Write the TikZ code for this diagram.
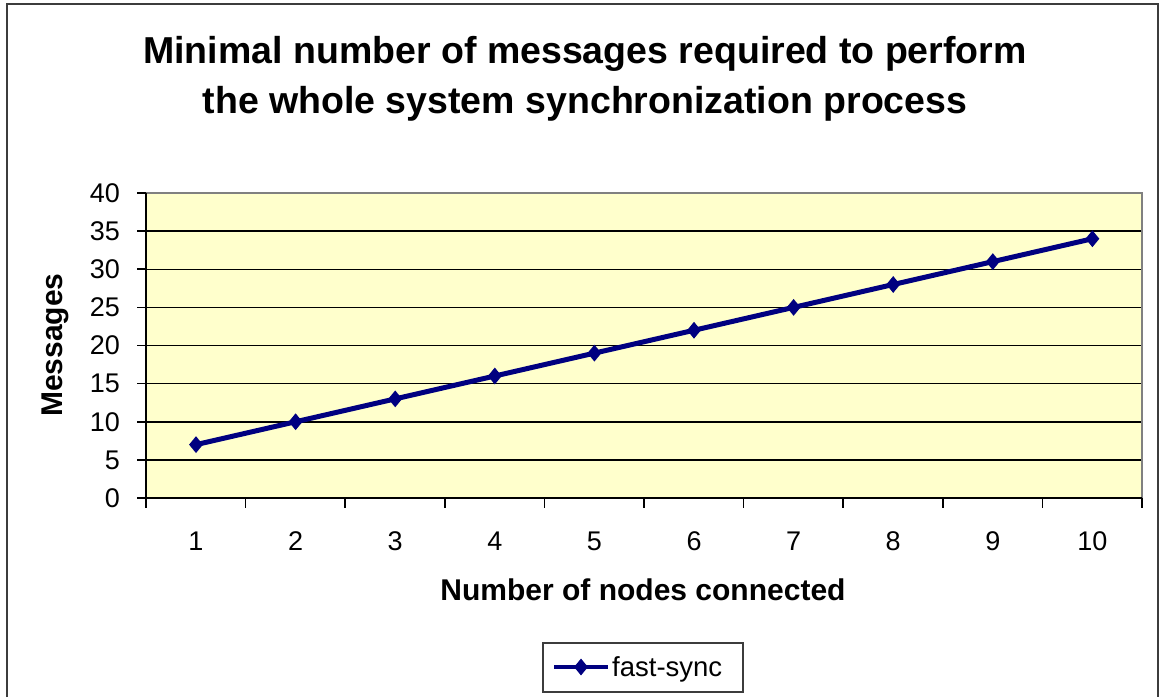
\documentclass[tikz,border=0pt]{standalone}
\usepackage{fontspec}
\setmainfont{Liberation Sans}
\usetikzlibrary{shapes.geometric}
\definecolor{plotbg}{RGB}{255,255,204}
\definecolor{seriesblue}{RGB}{0,0,128}
\definecolor{frameedge}{RGB}{60,60,60}
\definecolor{plotedge}{RGB}{128,128,128}
\begin{document}
\begin{tikzpicture}[x=1pt,y=-1pt,
  gridline/.style={line width=1.5pt,black},
  axisline/.style={line width=1.6pt,black},
  ticklabel/.style={font=\fontsize{27}{30}\selectfont,inner sep=0pt},
  axistitle/.style={font=\bfseries\fontsize{30}{34}\selectfont,inner sep=0pt},
  titletext/.style={font=\bfseries\fontsize{37.5}{50}\selectfont,inner sep=0pt,anchor=base},
  seriesline/.style={line width=5pt,seriesblue,line join=round},
  marker/.style={diamond,fill=seriesblue,draw=none,inner sep=0pt,minimum width=14pt,minimum height=17pt},
  legendbox/.style={draw=frameedge,line width=1.5pt,fill=white}
]
\useasboundingbox (0,0) rectangle (1159,697);
\fill[white] (0,0) rectangle (1159,697);

% chart frame (its lower edge lies below the page)
\draw[frameedge,line width=1.6pt] (7,697) -- (7,4) -- (1158,4) -- (1158,697);

% title
\node[titletext] (title1) at (585,63) {Minimal number of messages required to perform};
\node[titletext] (title2) at (585,113) {the whole system synchronization process};

% plot area
\fill[plotbg] (146,193) rectangle (1142,498);
\foreach \k in {1,...,7}
  \draw[gridline] (146,{498-\k*38.125}) -- (1142,{498-\k*38.125});
\draw[plotedge,line width=1.5pt] (146,193) -- (1142,193) -- (1142,498);

% axes and ticks
\draw[axisline] (146,193) -- (146,498) -- (1142,498);
\foreach \k in {0,...,8}{
  \draw[axisline] (137,{498-\k*38.125}) -- (146,{498-\k*38.125});
  \pgfmathtruncatemacro{\v}{5*\k}
  \node[ticklabel,anchor=east] (ylab\k) at (120,{498-\k*38.125}) {\v};
}
\foreach \j in {0,...,10}
  \draw[axisline] ({146+\j*99.6},498) -- ({146+\j*99.6},508);
\foreach \i in {1,...,10}
  \node[ticklabel] (xlab\i) at ({196+(\i-1)*99.6},541) {\i};

% axis titles
\node[axistitle,anchor=base] (xtitle) at (643,600) {Number of nodes connected};
\node[axistitle,anchor=base,rotate=90] (ytitle) at (62,345) {Messages};

% data series
\foreach \i in {1,...,10}
  \node[marker] (m\i) at ({196+(\i-1)*99.6},{498-(4+3*\i)*7.625}) {};
\draw[seriesline] (m1.center) \foreach \i in {2,...,10}{ -- (m\i.center)};

% legend
\node[legendbox,minimum width=200pt,minimum height=49pt,inner sep=0pt] (legend) at (643,667.5) {};
\coordinate (legA) at (554,667);
\coordinate (legB) at (608,667);
\draw[line width=4pt,seriesblue] (legA) -- (legB);
\node[marker] (legmark) at (581,667) {};
\node[ticklabel,anchor=base west,font=\fontsize{27.5}{30}\selectfont] (legtext) at (612,676) {fast-sync};
\end{tikzpicture}
\end{document}
